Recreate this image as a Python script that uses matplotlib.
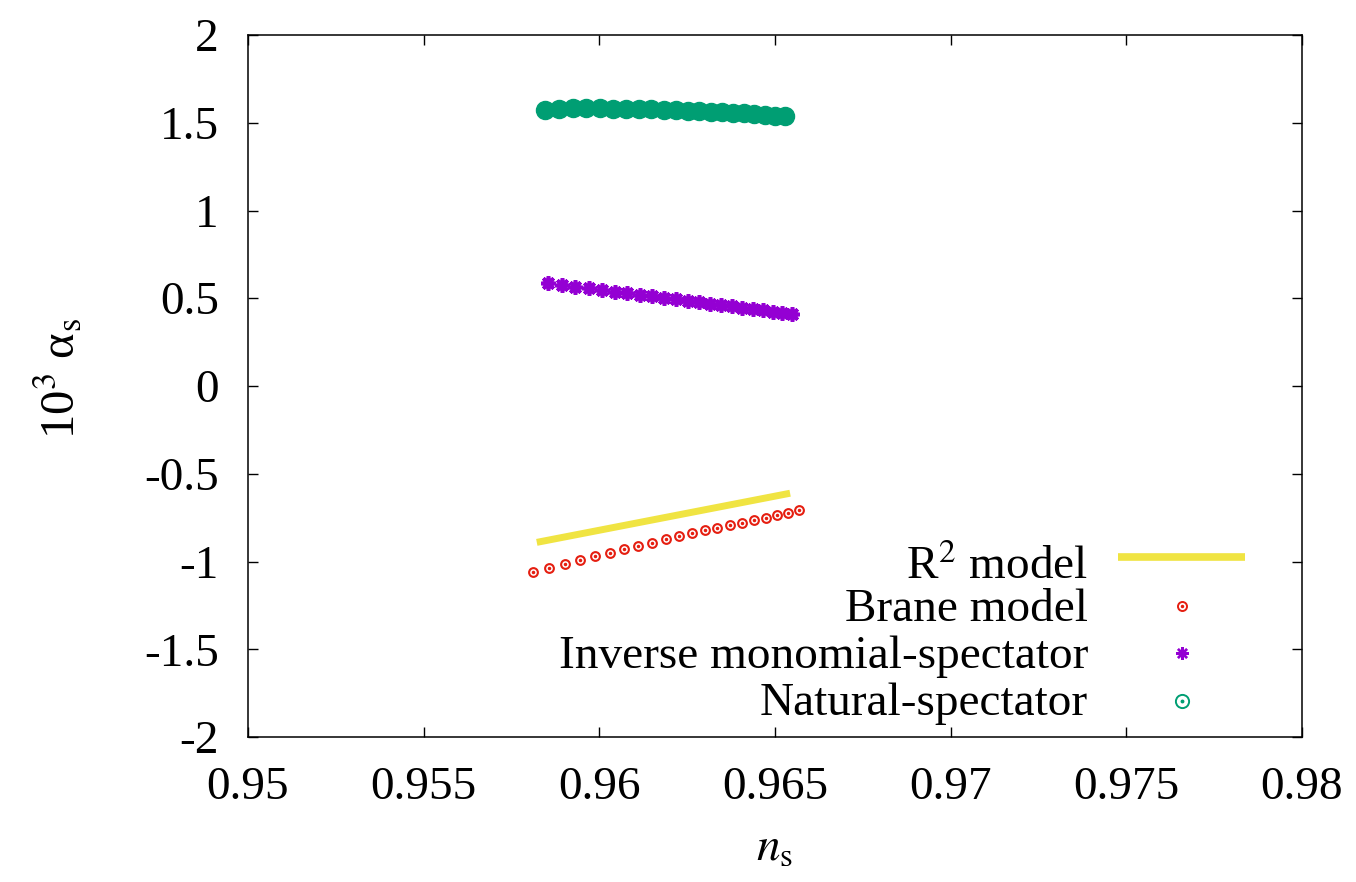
import numpy as np
import matplotlib
matplotlib.use('Agg')
import matplotlib.pyplot as plt
from matplotlib.lines import Line2D

plt.rcParams['font.family'] = ['Liberation Serif', 'DejaVu Serif']
plt.rcParams['mathtext.fontset'] = 'stix'
plt.rcParams['axes.unicode_minus'] = False

# R^2 (Starobinsky) prediction
r2_ns = [0.95822, 0.96543]
r2_as = [-0.891, -0.611]

# Brane model
brane_ns = [0.95810, 0.95856, 0.95901, 0.95945, 0.95989, 0.96030, 0.96071,
            0.96111, 0.96151, 0.96189, 0.96227, 0.96265, 0.96301, 0.96336,
            0.96371, 0.96405, 0.96439, 0.96473, 0.96506, 0.96538, 0.96569]
brane_as = [-1.058, -1.037, -1.016, -0.994, -0.971, -0.950, -0.931,
            -0.914, -0.893, -0.874, -0.857, -0.840, -0.822, -0.809,
            -0.794, -0.779, -0.765, -0.752, -0.737, -0.722, -0.708]

# Inverse monomial + spectator
inv_ns = [0.95855, 0.95894, 0.95932, 0.95970, 0.96007, 0.96044, 0.96080,
          0.96115, 0.96150, 0.96184, 0.96218, 0.96251, 0.96283, 0.96315,
          0.96346, 0.96377, 0.96407, 0.96436, 0.96465, 0.96493, 0.96521,
          0.96548]
inv_as = [0.585, 0.575, 0.566, 0.556, 0.547, 0.538, 0.529, 0.520, 0.511,
          0.502, 0.494, 0.485, 0.477, 0.469, 0.461, 0.454, 0.446, 0.439,
          0.431, 0.424, 0.417, 0.410]

# Natural inflation + spectator
nat_ns = [0.95845, 0.95885, 0.95924, 0.95963, 0.96001, 0.96039, 0.96076,
          0.96112, 0.96148, 0.96183, 0.96217, 0.96251, 0.96284, 0.96317,
          0.96349, 0.96380, 0.96411, 0.96441, 0.96471, 0.96500, 0.96528]
nat_as = [1.572, 1.580, 1.583, 1.583, 1.582, 1.581, 1.580, 1.578, 1.576,
          1.574, 1.572, 1.569, 1.566, 1.563, 1.560, 1.556, 1.553, 1.549,
          1.545, 1.541, 1.537]

c_r2 = '#f0e442'
c_brane = '#e51e10'
c_inv = '#9400d3'
c_nat = '#009e73'
asterisk = (8, 2, 0)

W, H = 1356, 882
fig = plt.figure(figsize=(W / 100, H / 100), dpi=100)
ax = fig.add_axes([248 / W, 1 - 737 / H, (1302 - 248) / W, (737 - 35) / H])

ax.plot(r2_ns, r2_as, color=c_r2, lw=5.0, solid_capstyle='butt')
ax.plot(brane_ns, brane_as, ls='none', marker='o', ms=6.3, mfc='white',
        mec=c_brane, mew=1.5)
ax.plot(brane_ns, brane_as, ls='none', marker='o', ms=1.5, color=c_brane)
ax.plot(inv_ns, inv_as, ls='none', marker=asterisk, ms=10.5, mec=c_inv, mew=2.6)
ax.plot(nat_ns, nat_as, ls='none', marker='o', ms=13, color=c_nat)

ax.set_xlim(0.95, 0.98)
ax.set_ylim(-2, 2)
ax.set_xticks(np.arange(0.95, 0.9801, 0.005))
ax.set_xticklabels(['0.95', '0.955', '0.96', '0.965', '0.97', '0.975', '0.98'])
ax.set_yticks(np.arange(-2, 2.01, 0.5))
ax.set_yticklabels(['-2', '-1.5', '-1', '-0.5', '0', '0.5', '1', '1.5', '2'])
ax.tick_params(direction='in', length=7.2, width=1.0, top=True, right=True,
               labelsize=34, pad=21)
for sp in ax.spines.values():
    sp.set_linewidth(1.1)

ax.set_xlabel(r'$n_{\rm s}$', fontsize=34)
ax.xaxis.set_label_coords(0.5, -0.13)
ax.set_ylabel(r'10$^{3}$ α$_{\rm s}$', fontsize=35)
ax.yaxis.set_label_coords(-0.155, 0.51)

# key, drawn in figure pixels: label right-aligned, sample to its right
key_text_x = 1088 / W
key_mark_x = 1182 / W
entries = [
    (r'R$^{2}$ model', 579),
    ('Brane model', 621),
    ('Inverse monomial-spectator', 668),
    ('Natural-spectator', 715),
]
for label, base in entries:
    fig.text(key_text_x, 1 - base / H, label, ha='right', va='baseline',
             fontsize=34)

yk = [1 - 557 / H, 1 - 606 / H, 1 - 653 / H, 1 - 701 / H]
fig.add_artist(Line2D([1118 / W, 1245 / W], [yk[0], yk[0]], color=c_r2,
                      lw=5.5, solid_capstyle='butt'))
fig.add_artist(Line2D([key_mark_x], [yk[1]], ls='none', marker='o', ms=6.5,
                      mfc='white', mec=c_brane, mew=1.4))
fig.add_artist(Line2D([key_mark_x], [yk[1]], ls='none', marker='o', ms=1.5,
                      color=c_brane))
fig.add_artist(Line2D([key_mark_x], [yk[2]], ls='none', marker=asterisk,
                      ms=9, mec=c_inv, mew=1.7))
fig.add_artist(Line2D([key_mark_x], [yk[3]], ls='none', marker='o', ms=9.5,
                      mfc='white', mec=c_nat, mew=1.4))
fig.add_artist(Line2D([key_mark_x], [yk[3]], ls='none', marker='o', ms=1.8,
                      color=c_nat))

fig.savefig('out.png', dpi=100)
